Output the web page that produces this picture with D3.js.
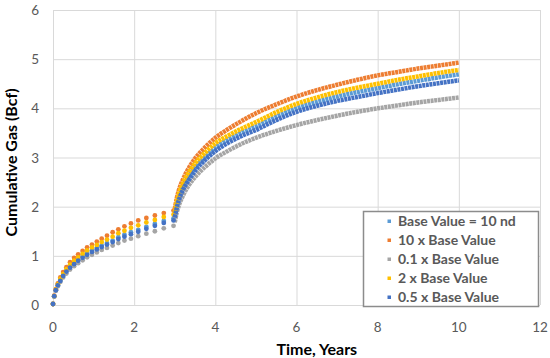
<!DOCTYPE html>
<html>
<head>
<meta charset="utf-8">
<script src="https://cdn.jsdelivr.net/npm/d3@7"></script>
<style>
  html, body { margin: 0; padding: 0; background: #fff; }
  #chart { width: 550px; height: 358px; }
  .grid line { stroke: #d9d9d9; stroke-width: 1; }
  .grid path { display: none; }
  .tick-lbl { font-family: Lato, sans-serif; font-size: 13.5px; fill: #595959; }
  .axis-title { font-family: Lato, sans-serif; font-weight: bold; font-size: 16px; fill: #000; }
  .legend text { font-family: Lato, sans-serif; font-weight: bold; font-size: 14px; fill: #595959; }
</style>
</head>
<body>
<div id="chart"></div>
<script>
// series names / colours (legend order)
const seriesNames = ["Base Value = 10 nd", "10 x Base Value", "0.1 x Base Value", "2 x Base Value", "0.5 x Base Value"];
const seriesColors = ["#5b9bd5", "#ed7d31", "#a5a5a5", "#ffc000", "#4472c4"];

// first production period (discrete points), years
const earlyTimes = [0, 0.03, 0.07, 0.12, 0.18, 0.25, 0.33, 0.42, 0.52, 0.62, 0.73, 0.84, 0.96, 1.08, 1.20, 1.33, 1.47, 1.61, 1.76, 1.92, 2.10, 2.30, 2.51, 2.73, 2.97];
const earlyBase   = [0.02, 0.18, 0.30, 0.40, 0.50, 0.60, 0.69, 0.77, 0.85, 0.92, 0.99, 1.05, 1.11, 1.16, 1.21, 1.26, 1.31, 1.38, 1.43, 1.48, 1.53, 1.59, 1.65, 1.71, 1.76];
const early10x    = [0.02, 0.19, 0.32, 0.44, 0.56, 0.67, 0.77, 0.87, 0.96, 1.03, 1.10, 1.17, 1.23, 1.29, 1.35, 1.41, 1.48, 1.54, 1.60, 1.66, 1.72, 1.77, 1.82, 1.87, 1.92];
const early01x    = [0.02, 0.17, 0.29, 0.38, 0.47, 0.56, 0.64, 0.72, 0.79, 0.85, 0.91, 0.97, 1.02, 1.07, 1.12, 1.16, 1.21, 1.26, 1.31, 1.35, 1.40, 1.45, 1.50, 1.56, 1.61];
const early2x     = [0.02, 0.18, 0.31, 0.42, 0.53, 0.63, 0.73, 0.82, 0.90, 0.97, 1.04, 1.11, 1.17, 1.22, 1.28, 1.33, 1.39, 1.46, 1.51, 1.57, 1.62, 1.68, 1.73, 1.79, 1.84];
const early05x    = [0.02, 0.18, 0.30, 0.40, 0.49, 0.59, 0.68, 0.76, 0.83, 0.90, 0.96, 1.02, 1.08, 1.13, 1.18, 1.23, 1.28, 1.34, 1.39, 1.44, 1.49, 1.55, 1.61, 1.67, 1.72];

// second period after the restart at ~3 years
const lateTimes = [3.0, 3.05, 3.1, 3.2, 3.35, 3.5, 3.75, 4.0, 4.3, 4.6, 5.0, 5.5, 6.0, 6.5, 7.0, 7.5, 8.0, 8.5, 9.0, 9.5, 10.0];
const lateBase  = [1.82, 2.03, 2.18, 2.39, 2.61, 2.79, 3.01, 3.20, 3.36, 3.49, 3.63, 3.83, 4.00, 4.13, 4.24, 4.33, 4.41, 4.49, 4.56, 4.63, 4.69];
const late10x   = [1.95, 2.17, 2.33, 2.55, 2.79, 2.98, 3.21, 3.40, 3.57, 3.72, 3.90, 4.08, 4.24, 4.37, 4.48, 4.58, 4.67, 4.74, 4.81, 4.87, 4.93];
const late01x   = [1.68, 1.88, 2.02, 2.22, 2.44, 2.60, 2.81, 2.98, 3.13, 3.26, 3.40, 3.54, 3.66, 3.76, 3.85, 3.93, 4.00, 4.06, 4.12, 4.17, 4.22];
const late2x    = [1.88, 2.10, 2.26, 2.47, 2.70, 2.88, 3.10, 3.29, 3.44, 3.57, 3.72, 3.92, 4.09, 4.22, 4.33, 4.42, 4.50, 4.58, 4.65, 4.72, 4.78];
const late05x   = [1.78, 1.98, 2.13, 2.34, 2.55, 2.73, 2.95, 3.13, 3.29, 3.42, 3.56, 3.76, 3.93, 4.05, 4.15, 4.23, 4.31, 4.38, 4.45, 4.51, 4.57];

const xTicks = [0, 2, 4, 6, 8, 10, 12];
const yTicks = [0, 1, 2, 3, 4, 5, 6];

const earlyValues = [earlyBase, early10x, early01x, early2x, early05x];
const lateValues = [lateBase, late10x, late01x, late2x, late05x];

const series = seriesNames.map((name, i) => ({
  name,
  color: seriesColors[i],
  early: earlyTimes.map((t, j) => ({ t, v: earlyValues[i][j] })),
  late: lateTimes.map((t, j) => ({ t, v: lateValues[i][j] }))
}));

const W = 550, H = 358;
const margin = { top: 10, right: 10, bottom: 53, left: 53 };

const svg = d3.select("#chart").append("svg")
  .attr("width", W)
  .attr("height", H);

const x = d3.scaleLinear().domain([0, 12]).range([margin.left, W - margin.right]);
const y = d3.scaleLinear().domain([0, 6]).range([H - margin.bottom, margin.top]);

// grid
svg.append("g")
  .attr("class", "grid")
  .attr("transform", `translate(0,${margin.top})`)
  .call(d3.axisBottom(x).tickValues(xTicks).tickSize(H - margin.top - margin.bottom).tickFormat(""));

svg.append("g")
  .attr("class", "grid")
  .attr("transform", `translate(${margin.left},0)`)
  .call(d3.axisRight(y).tickValues(yTicks).tickSize(W - margin.left - margin.right).tickFormat(""));

// tick labels
svg.append("g").selectAll("text")
  .data(xTicks)
  .join("text")
  .attr("class", "tick-lbl")
  .attr("x", d => x(d))
  .attr("y", H - margin.bottom + 27)
  .attr("text-anchor", "middle")
  .text(d => d);

svg.append("g").selectAll("text")
  .data(yTicks)
  .join("text")
  .attr("class", "tick-lbl")
  .attr("x", margin.left - 14)
  .attr("y", d => y(d) + 5)
  .attr("text-anchor", "end")
  .text(d => d);

// axis titles
svg.append("text")
  .attr("class", "axis-title")
  .attr("x", x(6.5))
  .attr("y", H - 3)
  .attr("text-anchor", "middle")
  .text("Time, Years");

svg.append("text")
  .attr("class", "axis-title")
  .attr("transform", `translate(17,${y(2.9)}) rotate(-90)`)
  .attr("text-anchor", "middle")
  .text("Cumulative Gas (Bcf)");

// series
const line = d3.line()
  .x(d => x(d.t))
  .y(d => y(d.v))
  .curve(d3.curveMonotoneX);

const marks = svg.append("g");
series.forEach(s => {
  const g = marks.append("g");
  g.selectAll("circle")
    .data(s.early)
    .join("circle")
    .attr("cx", d => x(d.t))
    .attr("cy", d => y(d.v))
    .attr("r", 2.4)
    .attr("fill", s.color);
  g.append("path")
    .datum(s.late)
    .attr("d", line)
    .attr("fill", "none")
    .attr("stroke", s.color)
    .attr("stroke-width", 4.5)
    .attr("stroke-dasharray", "3,0.6");
});

// legend
const legend = svg.append("g").attr("class", "legend");
legend.append("rect")
  .attr("x", 363.5)
  .attr("y", 211.5)
  .attr("width", 175)
  .attr("height", 95)
  .attr("fill", "#fff")
  .attr("stroke", "#8c8c8c")
  .attr("stroke-width", 1.5);

const items = legend.selectAll("g.item")
  .data(series)
  .join("g")
  .attr("class", "item")
  .attr("transform", (d, i) => `translate(389,${221 + i * 19})`);

items.append("rect")
  .attr("x", -1.5)
  .attr("y", -1.5)
  .attr("width", 3.5)
  .attr("height", 3.5)
  .attr("fill", d => d.color);

items.append("text")
  .attr("x", 9)
  .attr("y", 5)
  .text(d => d.name);
</script>
</body>
</html>
